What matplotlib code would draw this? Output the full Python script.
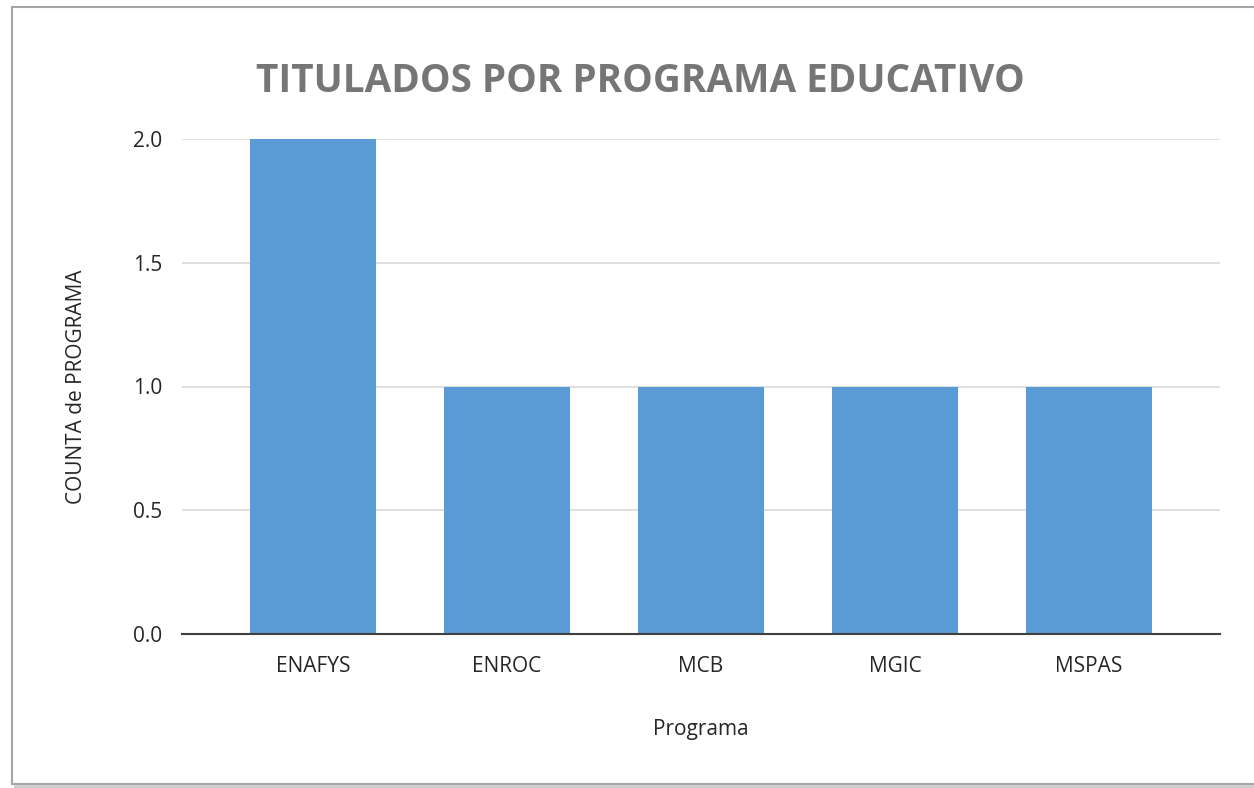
import matplotlib.pyplot as plt
from matplotlib.patches import Rectangle

programas = ['ENAFYS', 'ENROC', 'MCB', 'MGIC', 'MSPAS']
conteo = [2, 1, 1, 1, 1]
yticks = [0.0, 0.5, 1.0, 1.5, 2.0]

plt.rcParams['font.family'] = ['Open Sans', 'DejaVu Sans']

BAR_COLOR = '#5B9BD5'
TEXT_COLOR = '#262626'

fig = plt.figure(figsize=(12.54, 7.88), dpi=100)
W, H = 1254, 788

# chart frame with a soft shadow, like the pasted Excel image
fig.patches.append(Rectangle((14 / W, 1 - 788 / H), 1.2, (788 - 11) / H,
                             transform=fig.transFigure, facecolor='#D0D0D0',
                             edgecolor='none', zorder=0))
fig.patches.append(Rectangle((12 / W, 1 - 784 / H), 1.2, (784 - 7) / H,
                             transform=fig.transFigure, facecolor='white',
                             edgecolor='#A6A6A6', linewidth=1.5, zorder=1))

ax = fig.add_axes([182 / W, 1 - 634 / H, (1220 - 182) / W, (634 - 139) / H])
ax.set_zorder(2)
ax.patch.set_alpha(0)

x = list(range(len(programas)))
ax.bar(x, conteo, width=0.65, color=BAR_COLOR, zorder=3)

ax.set_xlim(-0.675, len(programas) - 1 + 0.675)
ax.set_ylim(0, 2.0)
ax.set_yticks(yticks)
ax.set_yticklabels([f'{v:.1f}' for v in yticks])
ax.set_xticks(x)
ax.set_xticklabels(programas)

ax.yaxis.grid(True, color='#D9D9D9', linewidth=1.2, zorder=0)
ax.set_axisbelow(True)
for side in ['top', 'right', 'left']:
    ax.spines[side].set_visible(False)
ax.spines['bottom'].set_color('#404040')
ax.spines['bottom'].set_linewidth(1.5)
ax.spines['bottom'].set_zorder(4)

ax.tick_params(axis='both', length=0, labelsize=15, colors=TEXT_COLOR)
ax.tick_params(axis='y', pad=14)
ax.tick_params(axis='x', pad=16)

ax.set_xlabel('Programa', fontsize=15, color=TEXT_COLOR, labelpad=30)
ax.set_ylabel('COUNTA de PROGRAMA', fontsize=15, color=TEXT_COLOR, labelpad=33)

fig.text(640 / W, 1 - 81 / H, 'TITULADOS POR PROGRAMA EDUCATIVO', fontsize=27.8,
         fontweight='bold', color='#767676', ha='center', va='center', zorder=5)

fig.savefig('out.png', dpi=100)
